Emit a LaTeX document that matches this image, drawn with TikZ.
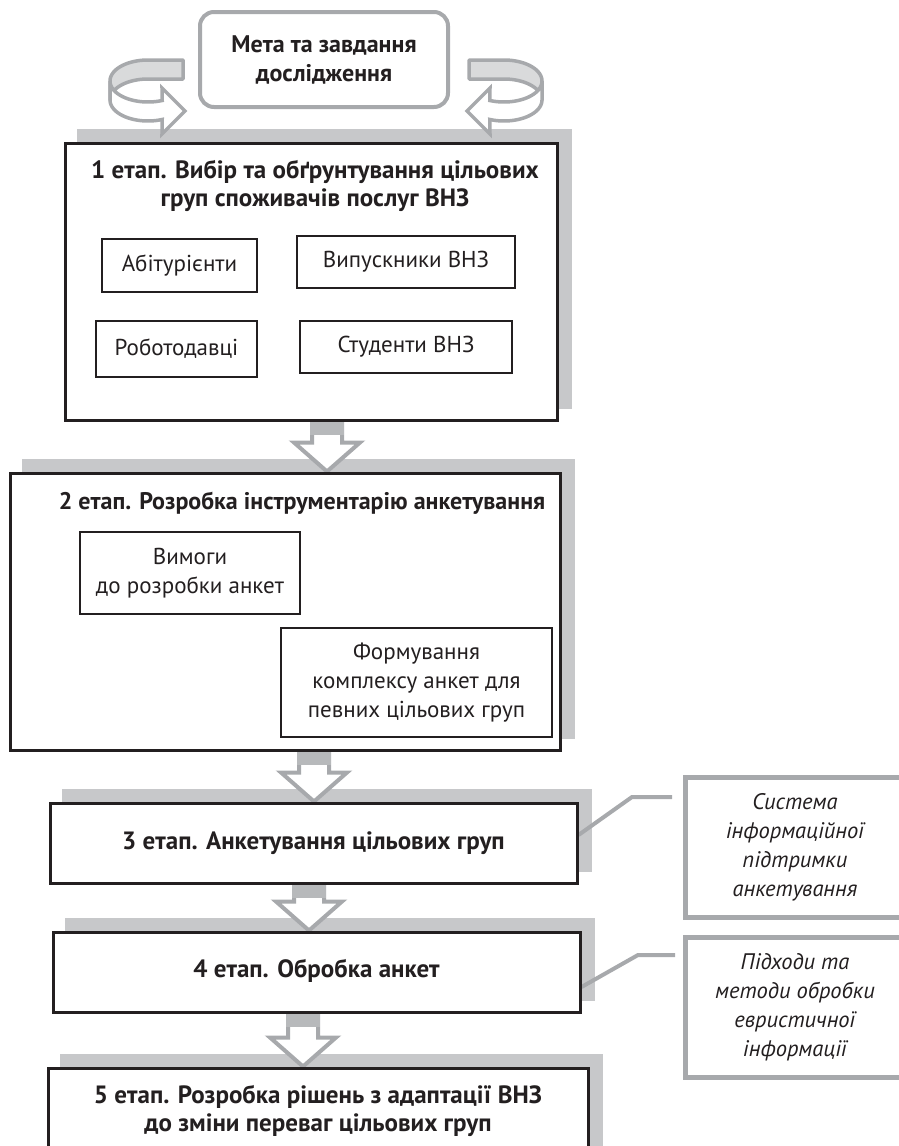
\documentclass[tikz,border=0pt]{standalone}
\usepackage{fontspec}
\setmainfont{PT Sans}
\usetikzlibrary{calc}
\pgfdeclarelayer{bg}\pgfdeclarelayer{mid}\pgfsetlayers{bg,mid,main}
\definecolor{ink}{HTML}{231F20}
\definecolor{lgray}{HTML}{A7A9AC}
\definecolor{shadowgray}{HTML}{C7C8CA}
\definecolor{bandgray}{HTML}{D9DADB}
\definecolor{stemgray}{HTML}{B7B9BB}
\newcommand\ribbonarrow{%
 \filldraw[ribback] (183,60) -- (148,60) -- plot[domain=270:180,samples=30,variable=\t] ({148+38*cos(\t)},{81+21*sin(\t)}) -- plot[domain=180:270,samples=30,variable=\t] ({148+38*cos(\t)},{100+21*sin(\t)}) -- (183,79) -- cycle;
 \filldraw[ribfront] plot[domain=180:68,samples=30,variable=\t] ({148+38*cos(\t)},{81+21*sin(\t)}) -- (162,88) -- (185,111) -- (162,134) -- plot[domain=68:180,samples=30,variable=\t] ({148+38*cos(\t)},{100+21*sin(\t)}) -- cycle;
}
\newcommand\blockarr[3]{%
 \coordinate (ba-s) at (#1.south -| #3);
 \coordinate (ba-t) at (#2.north -| #3);
 \filldraw[barrow] ($(ba-s)+(-15,0)$) -- ($(ba-t)+(-15,-29)$) -- ($(ba-t)+(-33,-29)$) -- (ba-t) -- ($(ba-t)+(33,-29)$) -- ($(ba-t)+(15,-29)$) -- ($(ba-s)+(15,0)$) -- cycle;
 \fill[stemgray] ($(ba-s)+(-17,0)$) rectangle ($(ba-s)+(17,13)$);
}
\newcommand\shadowof[1]{%
 \fill[shadowgray] ($(#1.south west)+(13,-13)$) rectangle ($(#1.north east)+(13,-13)$);
}
\begin{document}
\begin{tikzpicture}[x=1pt,y=-1pt,
  mainbox/.style={draw=ink, line width=3pt, fill=white, inner sep=0pt},
  subbox/.style={draw=ink, line width=2.5pt, fill=white, inner sep=0pt, align=center, text=ink, font=\fontsize{23}{29}\selectfont},
  titletext/.style={align=center, text=ink, inner sep=0pt, font=\bfseries\fontsize{25}{28.5}\selectfont},
  goalbox/.style={draw=lgray, line width=4pt, rounded corners=14pt, fill=white, inner sep=0pt, align=center, text=ink, font=\bfseries\fontsize{24}{29}\selectfont},
  sidebox/.style={draw=lgray, line width=5pt, fill=white, inner sep=0pt, align=center, text=ink, font=\itshape\fontsize{22.5}{29}\selectfont},
  conn/.style={draw=lgray, line width=4pt},
  barrow/.style={draw=lgray, fill=white, line width=4pt, line join=miter},
  ribback/.style={draw=lgray, fill=bandgray, line width=3.5pt, line join=round},
  ribfront/.style={draw=lgray, fill=white, line width=3.5pt, line join=miter},
]
\useasboundingbox (0,0) rectangle (899,1146);
\clip (0,0) rectangle (899,1146);

% goal box
\node[goalbox, minimum width=248pt, minimum height=95pt] (goal) at (324,59.5) {Мета та завдання\\дослідження};
\ribbonarrow
\begin{scope}[xshift=652pt,xscale=-1]
 \ribbonarrow
\end{scope}

% stage 1
\node[mainbox, minimum width=492pt, minimum height=277pt] (b1) at (311,281.5) {};
\node[titletext] (t1) at (315,186) {1 етап. Вибір та обґрунтування цільових\\груп споживачів послуг ВНЗ};
\node[subbox, minimum width=155pt, minimum height=53pt] (s11) at (179.5,265.5) {Абітурієнти};
\node[subbox, minimum width=218pt, minimum height=52pt] (s12) at (406,262) {Випускники ВНЗ};
\node[subbox, minimum width=161pt, minimum height=56pt] (s13) at (176.5,349) {Роботодавці};
\node[subbox, minimum width=212pt, minimum height=52pt] (s14) at (406,347) {Студенти ВНЗ};

% stage 2
\node[mainbox, minimum width=550pt, minimum height=277pt] (b2) at (285,611.5) {};
\node[titletext, font=\bfseries\fontsize{24}{28.5}\selectfont] (t2) at (302,503) {2 етап. Розробка інструментарію анкетування};
\node[subbox, minimum width=220pt, minimum height=82pt] (s21) at (190,573) {Вимоги\\до розробки анкет};
\node[subbox, minimum width=271pt, minimum height=109pt] (s22) at (416.5,682.5) {Формування\\комплексу анкет для\\певних цільових груп};

% stages 3-5
\node[mainbox, minimum width=527pt, minimum height=80pt] (b3) at (313.5,843) {};
\node[titletext] (t3) at (313.5,843) {3 етап. Анкетування цільових груп};
\node[mainbox, minimum width=527pt, minimum height=80pt] (b4) at (316.5,972) {};
\node[titletext] (t4) at (316.5,971) {4 етап. Обробка анкет};
\node[mainbox, minimum width=540pt, minimum height=110pt] (b5) at (318,1123) {};
\node[titletext] (t5) at (318,1111) {5 етап. Розробка рішень з адаптації ВНЗ\\до зміни переваг цільових груп};

% side boxes
\node[sidebox, minimum width=220pt, minimum height=140pt] (side1) at (795,847) {Система\\інформаційної\\підтримки\\анкетування};
\node[sidebox, minimum width=220pt, minimum height=140pt] (side2) at (795,1007) {Підходи та\\методи обробки\\евристичної\\інформації};

% shadows
\begin{pgfonlayer}{bg}
 \shadowof{b1}
 \shadowof{b2}
 \shadowof{b3}
 \shadowof{b4}
 \shadowof{b5}
\end{pgfonlayer}

% arrows and connectors
\coordinate (x12) at (327,0);
\coordinate (x23) at (314,0);
\coordinate (x34) at (309,0);
\coordinate (x45) at (303,0);
\coordinate (k1) at (632,797);
\coordinate (k1e) at (672,797);
\coordinate (k2) at (638,955);
\coordinate (k2e) at (675,955);
\begin{pgfonlayer}{mid}
 \blockarr{b1}{b2}{x12}
 \blockarr{b2}{b3}{x23}
 \blockarr{b3}{b4}{x34}
 \blockarr{b4}{b5}{x45}
 \draw[conn] ([yshift=8pt]b3.east) -- (k1) -- (k1e);
 \draw[conn] ([yshift=-15pt]b4.east) -- (k2) -- (k2e);
\end{pgfonlayer}
\end{tikzpicture}
\end{document}
